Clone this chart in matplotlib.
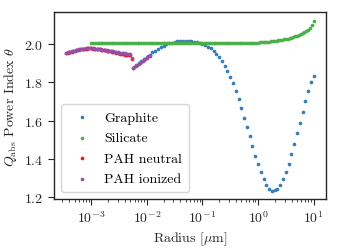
import numpy as np
import matplotlib
matplotlib.use("Agg")
import matplotlib.pyplot as plt

# 字体设置：接近 LaTeX 的 Computer Modern
plt.rcParams["font.family"] = "cmr10"
plt.rcParams["mathtext.fontset"] = "cm"
plt.rcParams["axes.formatter.use_mathtext"] = True
plt.rcParams["font.size"] = 10

# 石墨 (Graphite)：log10(a) 从 -2.25 到 1.0，每 0.05 一个点
graphite_loga = np.arange(-2.25, 1.0001, 0.05)
graphite_theta = [
    1.875, 1.889, 1.902, 1.914, 1.925, 1.935, 1.946, 1.957, 1.967, 1.976,
    1.985, 1.993, 1.999, 2.005, 2.009, 2.013, 2.016, 2.017, 2.018, 2.018,
    2.017, 2.016, 2.014, 2.011, 2.007, 2.002,
    1.995, 1.987, 1.978, 1.965, 1.950, 1.932, 1.912, 1.888, 1.859, 1.829,
    1.795, 1.755, 1.712, 1.665, 1.616, 1.567, 1.517, 1.466, 1.417, 1.372,
    1.331, 1.295, 1.265, 1.244, 1.234, 1.235, 1.244, 1.263, 1.292, 1.330,
    1.374, 1.424, 1.478, 1.535, 1.589, 1.646, 1.705, 1.757, 1.800, 1.833,
]

# 硅酸盐 (Silicate)：log10(a) 从 -3 到 1，每 1/30 一个点
silicate_loga = np.linspace(-3.0, 1.0, 121)
silicate_theta = [
    2.007, 2.007, 2.007, 2.007, 2.007, 2.007, 2.007, 2.007, 2.007, 2.007, 2.007, 2.007,
    2.007, 2.007, 2.007, 2.007, 2.007, 2.007, 2.007, 2.007, 2.007, 2.007, 2.007, 2.007,
    2.007, 2.007, 2.007, 2.007, 2.007, 2.007, 2.007, 2.007, 2.007, 2.007, 2.007, 2.007,
    2.007, 2.007, 2.007, 2.007, 2.007, 2.007, 2.007, 2.007, 2.007, 2.007, 2.007, 2.007,
    2.007, 2.007, 2.007, 2.007, 2.007, 2.007, 2.007, 2.007, 2.007, 2.007, 2.007, 2.007,
    2.007, 2.007, 2.007, 2.007, 2.007, 2.007, 2.007, 2.007, 2.007, 2.007, 2.007, 2.007,
    2.007, 2.007, 2.007, 2.007, 2.007, 2.007, 2.007, 2.007, 2.007, 2.007, 2.007, 2.007,
    2.007, 2.007, 2.008, 2.008, 2.008, 2.009, 2.009, 2.010, 2.010, 2.011, 2.012, 2.013,
    2.014, 2.015, 2.016, 2.017, 2.019, 2.020, 2.022, 2.024, 2.026, 2.028, 2.030, 2.032,
    2.035, 2.038, 2.041, 2.044, 2.048, 2.052, 2.057, 2.062, 2.068, 2.076, 2.086, 2.100,
    2.124,
]

# PAH：log10(a) 从 -3.45 到 -2.275，每 0.025 一个点
pah_loga = np.linspace(-3.45, -2.275, 48)
pah_neutral_theta = [
    1.952, 1.954, 1.957, 1.959, 1.961, 1.963, 1.966, 1.968, 1.970, 1.972,
    1.973, 1.974, 1.975, 1.976, 1.977, 1.977, 1.978, 1.978, 1.978, 1.977,
    1.977, 1.976, 1.975, 1.974, 1.973, 1.972, 1.971, 1.970, 1.969, 1.967,
    1.966, 1.964, 1.963, 1.961, 1.960, 1.958, 1.956, 1.954, 1.952, 1.951,
    1.949, 1.948, 1.946, 1.945, 1.944, 1.943, 1.942, 1.924,
]
pah_ionized_theta = [
    1.955, 1.957, 1.959, 1.961, 1.963, 1.965, 1.967, 1.969, 1.971, 1.973,
    1.974, 1.975, 1.976, 1.977, 1.978, 1.978, 1.979, 1.979, 1.979, 1.978,
    1.978, 1.977, 1.976, 1.975, 1.974, 1.973, 1.972, 1.971, 1.970, 1.968,
    1.967, 1.966, 1.965, 1.963, 1.962, 1.960, 1.959, 1.958, 1.956, 1.955,
    1.954, 1.953, 1.952, 1.951, 1.950, 1.949, 1.948, 1.930,
]
# 电离 PAH 在 5e-3 之后的第二段
pah_ion2_loga = np.linspace(-2.25, -1.95, 13)
pah_ion2_theta = [
    1.875, 1.880, 1.886, 1.892, 1.897, 1.903, 1.908, 1.914, 1.919, 1.925,
    1.930, 1.936, 1.941,
]

colors = {"Graphite": "#377eb8", "Silicate": "#4daf4a",
          "PAH neutral": "#e41a1c", "PAH ionized": "#984ea3"}

fig = plt.figure(figsize=(3.41, 2.51), dpi=100)
ax = fig.add_axes([0.158, 0.203, 0.798, 0.745])

ms = 7
ax.scatter(10 ** graphite_loga, graphite_theta, s=ms, lw=0, color=colors["Graphite"], label="Graphite")
ax.scatter(10 ** silicate_loga, silicate_theta, s=ms, lw=0, color=colors["Silicate"], label="Silicate")
ax.scatter(10 ** pah_loga, pah_neutral_theta, s=ms, lw=0, color=colors["PAH neutral"], label="PAH neutral")
ion_x = np.concatenate([10 ** pah_loga, 10 ** pah_ion2_loga])
ion_y = pah_ionized_theta + pah_ion2_theta
ax.scatter(ion_x, ion_y, s=ms, lw=0, color=colors["PAH ionized"], label="PAH ionized")

ax.set_xscale("log")
ax.set_yticks([1.2, 1.4, 1.6, 1.8, 2.0])
ax.set_xlabel(r"Radius [$\mu$m]", color="0.15", labelpad=3)
ax.set_ylabel(r"$Q_{\mathrm{abs}}$ Power Index $\theta$", color="0.15")

for sp in ax.spines.values():
    sp.set_color("0.15")
    sp.set_linewidth(1.0)
ax.tick_params(which="both", direction="out", colors="0.15", labelsize=10)
ax.tick_params(which="major", length=4)
ax.tick_params(which="minor", length=2.5)

leg = ax.legend(loc="lower left", markerscale=1.0, fontsize=10, borderpad=0.5,
                labelspacing=0.55, handletextpad=0.6)
leg.get_frame().set_edgecolor("0.8")

fig.savefig("out.png", dpi=100)
